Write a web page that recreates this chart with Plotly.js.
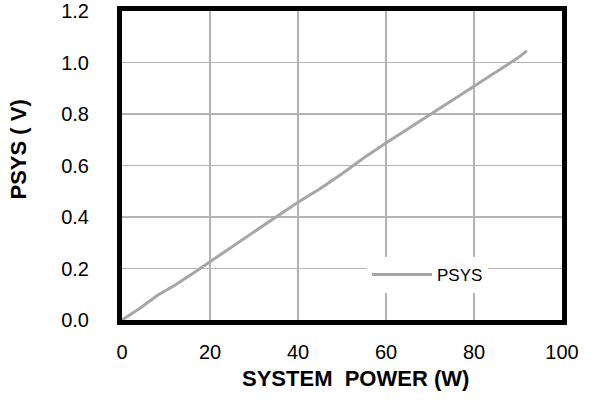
<!DOCTYPE html>
<html>
<head>
<meta charset="utf-8">
<script src="https://cdn.plot.ly/plotly-3.0.1.min.js"></script>
<style>html,body{margin:0;padding:0;background:#fff;}#chart{width:592px;height:400px;}</style>
</head>
<body>
<div id="chart"></div>
<script>
var power = [0, 4, 8, 12, 16, 20, 25, 30, 35, 40, 45, 50, 55, 60, 65, 70, 75, 80, 85, 90, 92];
var psys = [0, 0.045, 0.095, 0.135, 0.18, 0.227, 0.285, 0.342, 0.40, 0.457, 0.51, 0.568, 0.63, 0.687, 0.742, 0.797, 0.853, 0.909, 0.964, 1.018, 1.045];
var seriesName = 'PSYS';
var xTicks = [0, 20, 40, 60, 80, 100];
var yTicks = [0, 0.2, 0.4, 0.6, 0.8, 1.0, 1.2];
var xTitle = 'SYSTEM&nbsp;&nbsp;POWER (W)';
var yTitle = 'PSYS ( V)';

var font = 'Liberation Sans, Arial, sans-serif';
Plotly.newPlot('chart', [{
  x: power, y: psys, name: seriesName, type: 'scatter', mode: 'lines',
  line: {color: '#a6a6a6', width: 3}, showlegend: true
}], {
  width: 592, height: 400,
  margin: {l: 122, r: 30, t: 11, b: 80},
  paper_bgcolor: '#fff', plot_bgcolor: '#fff',
  font: {family: font, size: 20, color: '#000'},
  xaxis: {
    range: [0, 100], tickvals: xTicks, ticktext: xTicks.map(String),
    showgrid: true, gridcolor: '#b3b3b3', gridwidth: 1.5,
    showline: true, linecolor: '#000', linewidth: 5, mirror: true,
    zeroline: false, ticks: '', ticklabelstandoff: 10,
    tickfont: {size: 20}
  },
  yaxis: {
    range: [0, 1.2], tickvals: yTicks, ticktext: yTicks.map(function(v){return v.toFixed(1);}),
    showgrid: true, gridcolor: '#b3b3b3', gridwidth: 1.5,
    showline: true, linecolor: '#000', linewidth: 5, mirror: true,
    zeroline: false, ticks: '', ticklabelstandoff: 24,
    tickfont: {size: 20}
  },
  annotations: [
    {text: xTitle, xref: 'paper', yref: 'paper', x: (355 - 122) / 440, y: -(378 - 320) / 309,
     xanchor: 'center', yanchor: 'middle', showarrow: false,
     font: {size: 22, family: font, weight: 'bold', color: '#000'}},
    {text: yTitle, xref: 'paper', yref: 'paper', x: -(122 - 17.5) / 440, y: (320 - 150) / 309,
     xanchor: 'center', yanchor: 'middle', showarrow: false, textangle: -90,
     font: {size: 22, family: font, weight: 'bold', color: '#000'}}
  ],
  legend: {
    x: (367 - 122) / 440, y: (320 - 257) / 309, xanchor: 'left', yanchor: 'top',
    bgcolor: '#fff', borderwidth: 0, font: {size: 17, family: font},
    itemwidth: 60
  }
}, {displayModeBar: false, staticPlot: true});
</script>
</body>
</html>
